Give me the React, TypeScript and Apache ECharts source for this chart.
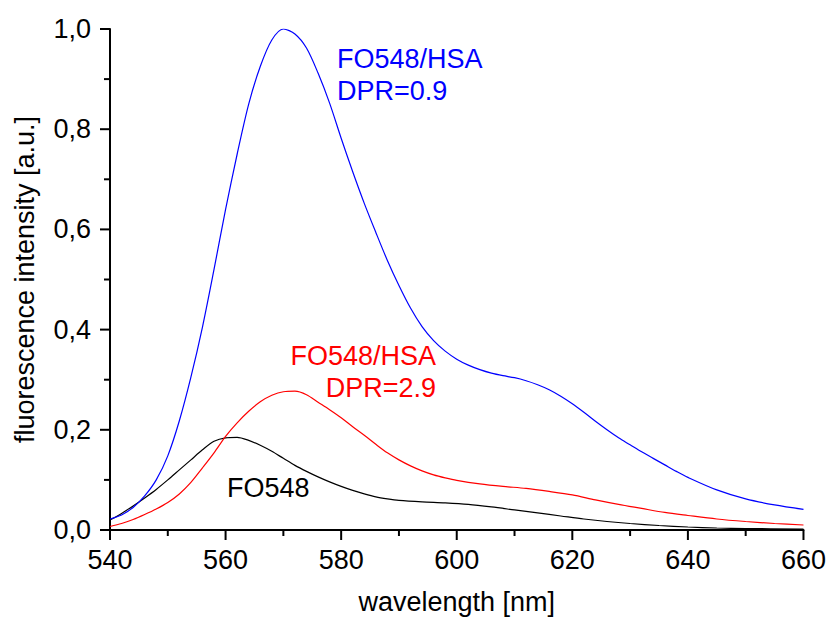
import React, { useEffect, useRef } from "react";
import * as echarts from "echarts";

const blueWavelength = [540, 542, 544, 546, 548, 550, 552, 554, 556, 558, 560, 562, 564, 566, 568, 570, 572, 574, 576, 578, 580, 582, 584, 586, 588, 590, 592, 594, 596, 598, 600, 602, 604, 606, 608, 610, 612, 614, 616, 618, 620, 622, 624, 626, 628, 630, 632, 634, 636, 638, 640, 645, 650, 655, 660];
const blueIntensity = [0.022, 0.03, 0.045, 0.068, 0.1, 0.148, 0.218, 0.305, 0.405, 0.52, 0.64, 0.75, 0.85, 0.925, 0.978, 1.0, 0.99, 0.962, 0.912, 0.852, 0.782, 0.715, 0.652, 0.594, 0.538, 0.488, 0.443, 0.406, 0.378, 0.357, 0.341, 0.329, 0.32, 0.313, 0.308, 0.304, 0.298, 0.29, 0.28, 0.267, 0.252, 0.235, 0.217, 0.2, 0.184, 0.17, 0.156, 0.143, 0.13, 0.117, 0.105, 0.08, 0.062, 0.05, 0.041];

const redWavelength = [540, 542, 544, 546, 548, 550, 552, 554, 556, 558, 560, 562, 564, 566, 568, 570, 572, 574, 576, 578, 580, 582, 584, 586, 588, 590, 592, 594, 596, 598, 600, 604, 608, 612, 616, 620, 624, 628, 632, 636, 640, 645, 650, 655, 660];
const redIntensity = [0.007, 0.013, 0.021, 0.031, 0.042, 0.055, 0.072, 0.095, 0.124, 0.154, 0.187, 0.214, 0.237, 0.256, 0.269, 0.276, 0.277, 0.27, 0.255, 0.24, 0.224, 0.206, 0.189, 0.171, 0.154, 0.14, 0.128, 0.118, 0.11, 0.104, 0.099, 0.092, 0.087, 0.083, 0.077, 0.07, 0.06, 0.051, 0.043, 0.035, 0.029, 0.022, 0.017, 0.013, 0.01];

const blackWavelength = [540, 542, 544, 546, 548, 550, 552, 554, 556, 558, 560, 562, 564, 566, 568, 570, 572, 574, 576, 578, 580, 582, 584, 586, 588, 590, 594, 598, 602, 606, 610, 614, 618, 622, 626, 630, 635, 640, 645, 650, 660];
const blackIntensity = [0.02, 0.033, 0.048, 0.064, 0.081, 0.1, 0.12, 0.14, 0.16, 0.177, 0.184, 0.185, 0.179, 0.169, 0.157, 0.143, 0.129, 0.117, 0.106, 0.096, 0.087, 0.079, 0.072, 0.066, 0.062, 0.059, 0.056, 0.054, 0.051, 0.046, 0.04, 0.034, 0.028, 0.022, 0.017, 0.013, 0.009, 0.006, 0.004, 0.003, 0.002];

const xMajorTicks = [540, 560, 580, 600, 620, 640, 660];
const xMinorTicks = [550, 570, 590, 610, 630, 650];
const yMajorTicks = [0, 0.2, 0.4, 0.6, 0.8, 1.0];
const yMinorTicks = [0.1, 0.3, 0.5, 0.7, 0.9];

const blueLabel = ["FO548/HSA", "DPR=0.9"];
const redLabel = ["FO548/HSA", "DPR=2.9"];
const blackLabel = ["FO548"];

const X_MIN = 540;
const X_MAX = 660;
const Y_MIN = 0;
const Y_MAX = 1;

const FONT = "'Liberation Sans', Arial, sans-serif";
const FS = 27;

function pairs(xs: number[], ys: number[]) {
  return xs.map((x, i) => [x, ys[i]]);
}

export default function App() {
  const ref = useRef<HTMLDivElement>(null);
  useEffect(() => {
    document.body.style.margin = "0";
    const chart = echarts.init(ref.current!, null, { renderer: "svg" });
    const mainAxis = {
      axisLine: { show: true, lineStyle: { color: "#000", width: 2 } },
      axisTick: { show: false },
      splitLine: { show: false },
      nameTextStyle: { color: "#000", fontSize: FS, fontFamily: FONT },
    };
    const tickData = [
      ...xMajorTicks.map((v) => [v, Y_MIN, 0, 1]),
      ...xMinorTicks.map((v) => [v, Y_MIN, 0, 0]),
      ...yMajorTicks.map((v) => [X_MIN, v, 1, 1]),
      ...yMinorTicks.map((v) => [X_MIN, v, 1, 0]),
    ];
    chart.setOption({
      animation: false,
      grid: { left: 110, right: 25.5, top: 29, bottom: 91 },
      xAxis: {
        type: "value",
        min: X_MIN,
        max: X_MAX,
        interval: 20,
        name: "wavelength [nm]",
        nameLocation: "middle",
        nameGap: 58,
        ...mainAxis,
        axisLabel: { color: "#000", fontSize: FS, fontFamily: FONT, margin: 16 },
      },
      yAxis: {
        type: "value",
        min: Y_MIN,
        max: Y_MAX,
        interval: 0.2,
        name: "fluorescence intensity [a.u.]",
        nameLocation: "middle",
        nameGap: 72,
        ...mainAxis,
        axisLabel: {
          color: "#000",
          fontSize: FS,
          fontFamily: FONT,
          margin: 19,
          formatter: (v: number) => v.toFixed(1).replace(".", ","),
        },
      },
      series: [
        {
          type: "line",
          data: pairs(blackWavelength, blackIntensity),
          showSymbol: false,
          smooth: 0.3,
          lineStyle: { color: "#000", width: 1.2 },
        },
        {
          type: "line",
          data: pairs(redWavelength, redIntensity),
          showSymbol: false,
          smooth: 0.3,
          lineStyle: { color: "#ff0000", width: 1.2 },
        },
        {
          type: "line",
          data: pairs(blueWavelength, blueIntensity),
          showSymbol: false,
          smooth: 0.3,
          lineStyle: { color: "#0000ff", width: 1.2 },
        },
        {
          type: "custom",
          silent: true,
          clip: false,
          z: 10,
          data: tickData,
          encode: { x: 0, y: 1 },
          renderItem: (_params: any, api: any) => {
            const p = api.coord([api.value(0), api.value(1)]);
            const isY = api.value(2) === 1;
            const len = api.value(3) === 1 ? 10 : 6;
            const shape = isY
              ? { x1: p[0] - len, y1: p[1], x2: p[0], y2: p[1] }
              : { x1: p[0], y1: p[1], x2: p[0], y2: p[1] + len };
            return { type: "line", shape, style: { stroke: "#000", lineWidth: 2 } };
          },
        },
      ],
      graphic: [
        { type: "text", x: 337, y: 59, style: { text: blueLabel[0], fill: "#0000ff", font: `${FS}px ${FONT}`, textAlign: "left", textVerticalAlign: "middle" } },
        { type: "text", x: 337, y: 91, style: { text: blueLabel[1], fill: "#0000ff", font: `${FS}px ${FONT}`, textAlign: "left", textVerticalAlign: "middle" } },
        { type: "text", x: 436, y: 356, style: { text: redLabel[0], fill: "#ff0000", font: `${FS}px ${FONT}`, textAlign: "right", textVerticalAlign: "middle" } },
        { type: "text", x: 436, y: 388, style: { text: redLabel[1], fill: "#ff0000", font: `${FS}px ${FONT}`, textAlign: "right", textVerticalAlign: "middle" } },
        { type: "text", x: 227, y: 488, style: { text: blackLabel[0], fill: "#000", font: `${FS}px ${FONT}`, textAlign: "left", textVerticalAlign: "middle" } },
      ],
    });
    return () => chart.dispose();
  }, []);
  return <div ref={ref} style={{ width: 829, height: 621 }} />;
}
